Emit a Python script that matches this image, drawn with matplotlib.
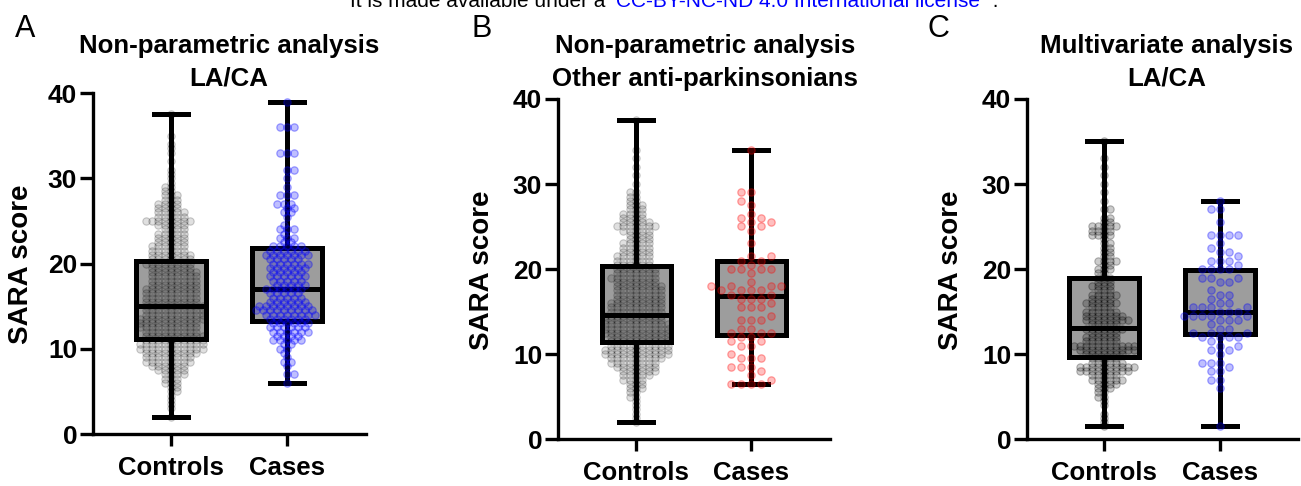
import numpy as np
import matplotlib.pyplot as plt

plt.rcParams['font.family'] = ['Liberation Sans', 'DejaVu Sans']
plt.rcParams['font.weight'] = 'bold'

W, H = 1301, 486
groups = ['Controls', 'Cases']

# ---- values (SARA score -> number of subjects) ----
a_ctrl_score = [2, 3, 3.5, 4, 4.5, 5, 5.5, 6, 6.5, 7, 7.5, 8, 8.5, 9, 9.5, 10, 10.5, 11, 11.5, 12,
                12.5, 13, 13.5, 14, 14.5, 15, 15.5, 16, 16.5, 17, 17.5, 18, 18.5, 19, 19.5, 20, 20.5,
                21, 21.5, 22, 22.5, 23, 23.5, 24, 24.5, 25, 25.5, 26, 26.5, 27, 27.5, 28, 28.5, 29,
                29.5, 30, 30.5, 31, 32, 33, 33.5, 34, 35, 37.5]
a_ctrl_n = [1, 1, 1, 1, 1, 2, 2, 3, 3, 4, 5, 6, 8, 8, 9, 11, 11, 10, 10, 9,
            10, 10, 11, 10, 10, 10, 9, 9, 9, 9, 8, 8, 8, 8, 7, 8, 7,
            7, 6, 6, 5, 5, 5, 4, 5, 8, 5, 5, 4, 4, 3, 3, 2, 2,
            1, 1, 1, 1, 1, 1, 1, 1, 1, 1]
a_case_score = [6, 7, 8, 8.5, 9, 9.5, 10, 10.5, 11, 11.5, 12, 12.5, 13, 13.5, 14, 14.5, 15, 15.5,
                16, 16.5, 17, 17.5, 18, 18.5, 19, 19.5, 20, 20.5, 21, 21.5, 22, 22.5, 23, 23.5, 24,
                24.5, 25.5, 26, 26.5, 27, 28, 29, 30, 31, 33, 36, 39]
a_case_n = [1, 2, 1, 2, 1, 1, 2, 2, 5, 4, 6, 6, 6, 6, 8, 9, 8, 6,
            5, 5, 6, 5, 5, 6, 5, 6, 6, 5, 7, 6, 5, 2, 3, 1, 3,
            1, 1, 2, 2, 3, 3, 1, 1, 2, 3, 3, 1]

b_ctrl_score = [2, 2.5, 3, 3.5, 4, 4.5, 5, 5.5, 6, 6.5, 7, 7.5, 8, 8.5, 9, 9.5, 10, 10.5, 11, 11.5,
                12, 12.5, 13, 13.5, 14, 14.5, 15, 15.5, 16, 16.5, 17, 17.5, 18, 18.5, 19, 19.5, 20,
                20.5, 21, 21.5, 22, 22.5, 23, 23.5, 24, 24.5, 25, 25.5, 26, 26.5, 27, 27.5, 28, 28.5,
                29, 30, 31, 32, 33, 34, 37.5]
b_ctrl_n = [1, 1, 1, 1, 1, 1, 2, 2, 3, 3, 4, 5, 6, 7, 8, 9, 11, 11, 10, 10,
            10, 11, 11, 11, 10, 10, 9, 9, 9, 8, 8, 8, 8, 7, 8, 7, 7,
            6, 6, 6, 5, 5, 5, 4, 4, 5, 7, 5, 4, 4, 3, 3, 2, 2,
            2, 1, 1, 1, 1, 1, 1]
b_case_score = [6.5, 7, 7.5, 8, 8.5, 9.5, 10, 11, 11.5, 12, 12.5, 13, 14, 14.5, 15.5, 16, 16.5, 17,
                17.5, 18, 18.5, 19.5, 20, 20.5, 21, 21.5, 23, 24.5, 25, 25.5, 26, 26.5, 27.5, 28,
                29, 34]
b_case_n = [4, 1, 1, 1, 3, 3, 1, 2, 2, 2, 3, 2, 3, 1, 3, 1, 3, 2,
            4, 4, 1, 1, 4, 1, 2, 2, 1, 1, 2, 2, 2, 1, 1, 1,
            2, 1]

c_ctrl_score = [1.5, 2, 2.5, 3, 4, 4.5, 5, 5.5, 6, 6.5, 7, 7.5, 8, 8.5, 9, 9.5, 10, 10.5, 11, 11.5,
                12, 12.5, 13, 13.5, 14, 14.5, 15, 15.5, 16, 16.5, 17, 17.5, 18, 18.5, 19, 19.5, 20,
                20.5, 21, 21.5, 22, 22.5, 23, 23.5, 24, 24.5, 25, 25.5, 26, 27, 28, 29, 30, 31, 32,
                33, 35]
c_ctrl_n = [1, 1, 1, 1, 1, 1, 2, 2, 3, 4, 6, 5, 9, 10, 6, 5, 7, 10, 11, 6,
            6, 5, 7, 5, 8, 7, 6, 4, 6, 4, 5, 3, 4, 3, 3, 2, 3,
            2, 4, 2, 2, 2, 2, 1, 4, 4, 5, 2, 2, 2, 1, 1, 1, 1, 1,
            1, 1]
c_case_score = [1.5, 6, 7, 8, 8.5, 9, 10, 10.5, 11, 11.5, 12, 12.5, 13, 13.5, 14, 14.5, 15, 15.5,
                16, 16.5, 17, 17.5, 18.5, 19, 20, 20.5, 21, 21.5, 22, 22.5, 23, 24, 25.5, 27, 28]
c_case_n = [1, 1, 2, 2, 1, 3, 1, 2, 2, 1, 4, 3, 2, 1, 3, 5, 3, 4,
            2, 1, 2, 1, 2, 3, 4, 1, 3, 1, 2, 1, 1, 4, 1, 2, 1]

# box statistics: whisker low, Q1, median, Q3, whisker high
a_ctrl_box = [2.0, 11.2, 15.0, 20.3, 37.5]
a_case_box = [6.0, 13.2, 17.0, 21.8, 39.0]
b_ctrl_box = [2.0, 11.4, 14.6, 20.4, 37.5]
b_case_box = [6.5, 12.2, 16.8, 20.9, 34.0]
c_ctrl_box = [1.5, 9.7, 13.1, 18.9, 35.0]
c_case_box = [1.5, 12.4, 15.0, 19.9, 28.0]

panels = [
    dict(letter='A', title=['Non-parametric analysis', 'LA/CA'],
         ctrl=(a_ctrl_score, a_ctrl_n), case=(a_case_score, a_case_n),
         boxes=[a_ctrl_box, a_case_box], color='blue',
         rect=(93, 366, 93, 434), cx=(171, 287), letter_x=15, title_x=229, ylab_x=21,
         dctrl=(6.3, 4.0), dcase=(7.0, 4.6), ctrl_alpha=0.12),
    dict(letter='B', title=['Non-parametric analysis', 'Other anti-parkinsonians'],
         ctrl=(b_ctrl_score, b_ctrl_n), case=(b_case_score, b_case_n),
         boxes=[b_ctrl_box, b_case_box], color='red',
         rect=(558, 830, 99, 439), cx=(636, 751), letter_x=472, title_x=705, ylab_x=482,
         dctrl=(6.3, 4.0), dcase=(10.0, 5.5), ctrl_alpha=0.12),
    dict(letter='C', title=['Multivariate analysis', 'LA/CA'],
         ctrl=(c_ctrl_score, c_ctrl_n), case=(c_case_score, c_case_n),
         boxes=[c_ctrl_box, c_case_box], color='blue',
         rect=(1027, 1298, 99, 439), cx=(1104, 1220), letter_x=927, title_x=1167, ylab_x=951,
         dctrl=(6.0, 4.0), dcase=(9.0, 5.5), ctrl_alpha=0.2),
]


def swarm(vals, ppy, dx, dy):
    # greedy beeswarm in pixel units (elliptic collision), returns x offsets in pixels
    vals = np.sort(np.asarray(vals, dtype=float))
    px, py, out = [], [], []
    s = dx / 2.0
    for i, v in enumerate(vals):
        y = v * ppy
        ax_ = np.array(px)
        ay_ = np.array(py)
        if len(ay_):
            m = np.abs(ay_ - y) < dy
            ax_, ay_ = ax_[m], ay_[m]
        k = 0
        chosen = None
        while chosen is None:
            cands = [0.0] if k == 0 else ([k * s, -k * s] if i % 2 == 0 else [-k * s, k * s])
            for off in cands:
                if len(ax_) == 0 or np.all(((ax_ - off) / dx) ** 2 + ((ay_ - y) / dy) ** 2 >= 1 - 1e-6):
                    chosen = off
                    break
            k += 1
        px.append(chosen)
        py.append(y)
        out.append(chosen)
    return vals, np.array(out)


fig = plt.figure(figsize=(W / 100, H / 100), dpi=100)

for p in panels:
    l, r, t, b = p['rect']
    ax = fig.add_axes([l / W, 1 - b / H, (r - l) / W, (b - t) / H])
    ppx = p['cx'][1] - p['cx'][0]
    ppy = (b - t) / 40.0
    ax.set_xlim((l - p['cx'][0]) / ppx, (r - p['cx'][0]) / ppx)
    ax.set_ylim(0, 40)

    stats = []
    for name, bx in zip(groups, p['boxes']):
        stats.append(dict(label=name, whislo=bx[0], q1=bx[1], med=bx[2], q3=bx[3],
                          whishi=bx[4], fliers=[]))
    ax.bxp(stats, positions=[0, 1], widths=0.6, capwidths=0.29, patch_artist=True,
           showfliers=False,
           boxprops=dict(facecolor='#9d9d9d', edgecolor='black', linewidth=3.6),
           whiskerprops=dict(color='black', linewidth=3.6, solid_capstyle='butt'),
           capprops=dict(color='black', linewidth=3.6),
           medianprops=dict(color='black', linewidth=3.6, solid_capstyle='butt'),
           zorder=2)

    # controls
    v = np.repeat(p['ctrl'][0], p['ctrl'][1])
    v, off = swarm(v, ppy, *p['dctrl'])
    a = p['ctrl_alpha']
    ax.scatter(0 + off / ppx, v, s=28, facecolor=(0, 0, 0, a), edgecolor=(0, 0, 0, a + 0.08),
               linewidths=0.8, zorder=3, clip_on=False)

    # cases
    v = np.repeat(p['case'][0], p['case'][1])
    v, off = swarm(v, ppy, *p['dcase'])
    rgb = (0, 0, 1) if p['color'] == 'blue' else (1, 0, 0)
    ax.scatter(1 + off / ppx, v, s=28, facecolor=rgb + (0.25,), edgecolor=rgb + (0.35,),
               linewidths=0.9, zorder=3, clip_on=False)

    for side in ['top', 'right']:
        ax.spines[side].set_visible(False)
    for side in ['left', 'bottom']:
        ax.spines[side].set_linewidth(2.4)
    ax.set_xticks([0, 1])
    ax.set_xticklabels(groups, fontsize=18.5, fontweight='bold')
    ax.set_yticks([0, 10, 20, 30, 40])
    ax.tick_params(axis='y', length=9.4, width=2.4, labelsize=19, pad=2)
    ax.tick_params(axis='x', length=8.6, width=2.4, pad=7)
    for lbl in ax.get_yticklabels():
        lbl.set_fontweight('bold')

    fig.text(p['ylab_x'] / W, 1 - ((t + b) / 2 + 1) / H, 'SARA score', rotation=90,
             ha='center', va='center', fontsize=20, fontweight='bold')
    fig.text(p['letter_x'] / W, 1 - 37 / H, p['letter'], ha='left', va='baseline',
             fontsize=22, fontweight='normal')
    fig.text(p['title_x'] / W, 1 - 53 / H, p['title'][0], ha='center', va='baseline',
             fontsize=18.6, fontweight='bold')
    fig.text(p['title_x'] / W, 1 - 86 / H, p['title'][1], ha='center', va='baseline',
             fontsize=18.6, fontweight='bold')

# cut-off licence line at the top of the page
fig.text(350 / W, 1 - 7 / H, 'It is made available under a ', ha='left', va='baseline',
         fontsize=15, fontweight='normal', color='black')
fig.text(616 / W, 1 - 7 / H, 'CC-BY-NC-ND 4.0 International license', ha='left',
         va='baseline', fontsize=15, fontweight='normal', color='#0000ff')
fig.text(987 / W, 1 - 7 / H, ' .', ha='left', va='baseline', fontsize=15,
         fontweight='normal', color='black')

fig.savefig('out.png', dpi=100)
